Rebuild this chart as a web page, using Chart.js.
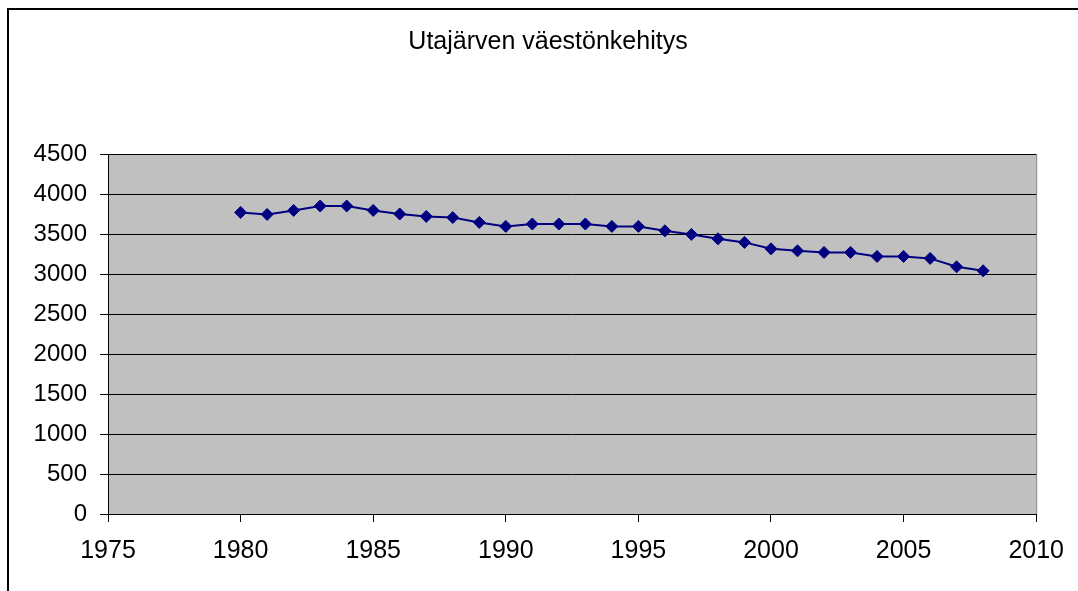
<!DOCTYPE html>
<html>
<head>
<meta charset="utf-8">
<script src="https://cdn.jsdelivr.net/npm/chart.js@4/dist/chart.umd.min.js"></script>
<style>
  html, body { margin: 0; padding: 0; background: #fff; overflow: hidden; }
  #frame { position: absolute; left: 7px; top: 8px; width: 2000px; height: 2000px;
           border-left: 2px solid #000; border-top: 2px solid #000; }
  #wrap { position: absolute; left: 0; top: 0; width: 1078px; height: 591px; }
</style>
</head>
<body>
<div id="frame"></div>
<div id="wrap"><canvas id="popChart"></canvas></div>
<script>
// Väestö vuosittain
const years = [1980, 1981, 1982, 1983, 1984, 1985, 1986, 1987, 1988, 1989,
               1990, 1991, 1992, 1993, 1994, 1995, 1996, 1997, 1998, 1999,
               2000, 2001, 2002, 2003, 2004, 2005, 2006, 2007, 2008];
const population = [3770, 3745, 3795, 3850, 3850, 3795, 3750, 3720, 3705, 3645,
                    3595, 3625, 3625, 3625, 3595, 3595, 3540, 3495, 3440, 3395,
                    3315, 3290, 3270, 3270, 3220, 3220, 3195, 3090, 3040];
const xTicks = [1975, 1980, 1985, 1990, 1995, 2000, 2005, 2010];
const yTicks = [0, 500, 1000, 1500, 2000, 2500, 3000, 3500, 4000, 4500];
const chartTitle = 'Utajärven väestönkehitys';

const points = years.map((y, i) => ({ x: y, y: population[i] }));

// harmaa tausta piirtoalueelle + otsikko
const plotBg = {
    id: 'plotBg',
    beforeDraw(chart) {
        const { ctx, chartArea: a } = chart;
        ctx.save();
        ctx.fillStyle = '#c0c0c0';
        ctx.fillRect(a.left, a.top, a.right - a.left, a.bottom - a.top);
        ctx.strokeStyle = '#808080';
        ctx.lineWidth = 1;
        ctx.beginPath();
        ctx.moveTo(a.right + 0.5, a.top);
        ctx.lineTo(a.right + 0.5, a.bottom);
        ctx.stroke();
        // otsikko hieman oikealle kuten alkuperäisessä
        ctx.fillStyle = '#000';
        ctx.font = '25px "Liberation Sans", Arial';
        ctx.textAlign = 'center';
        ctx.textBaseline = 'middle';
        ctx.fillText(chartTitle, 548, 42);
        ctx.restore();
    }
};

const ctx = document.getElementById('popChart').getContext('2d');
const popChart = new Chart(ctx, {
    type: 'line',
    data: {
        datasets: [{
            label: 'Väestö',
            data: points,
            borderColor: '#000080',
            backgroundColor: '#000080',
            borderWidth: 2,
            pointStyle: 'rectRot',
            pointRadius: 6,
            pointBorderWidth: 1,
            pointBackgroundColor: '#000080',
            pointBorderColor: '#000080',
            fill: false,
            tension: 0
        }]
    },
    options: {
        responsive: true,
        maintainAspectRatio: false,
        animation: false,
        layout: { padding: { left: 0, right: 40, top: 154, bottom: 0 } },
        plugins: {
            legend: { display: false },
            tooltip: { enabled: false },
            title: { display: false }
        },
        scales: {
            x: {
                type: 'linear',
                min: 1975,
                max: 2010,
                afterBuildTicks: s => { s.ticks = xTicks.map(v => ({ value: v })); },
                afterFit: s => { s.height = 77; },
                grid: { drawOnChartArea: false, color: '#000', tickLength: 8, tickColor: '#000' },
                border: { color: '#000', width: 1 },
                ticks: {
                    color: '#000',
                    padding: 14,
                    maxRotation: 0,
                    font: { family: 'Liberation Sans, Arial', size: 25 },
                    callback: v => String(v)
                }
            },
            y: {
                min: 0,
                max: 4500,
                afterBuildTicks: s => { s.ticks = yTicks.map(v => ({ value: v })); },
                afterFit: s => { s.width = 108; },
                grid: { color: '#000', tickLength: 8, tickColor: '#000' },
                border: { color: '#000', width: 1 },
                ticks: {
                    color: '#000',
                    padding: 13,
                    font: { family: 'Liberation Sans, Arial', size: 24 },
                    callback: v => String(v)
                }
            }
        }
    },
    plugins: [plotBg]
});
</script>
</body>
</html>
